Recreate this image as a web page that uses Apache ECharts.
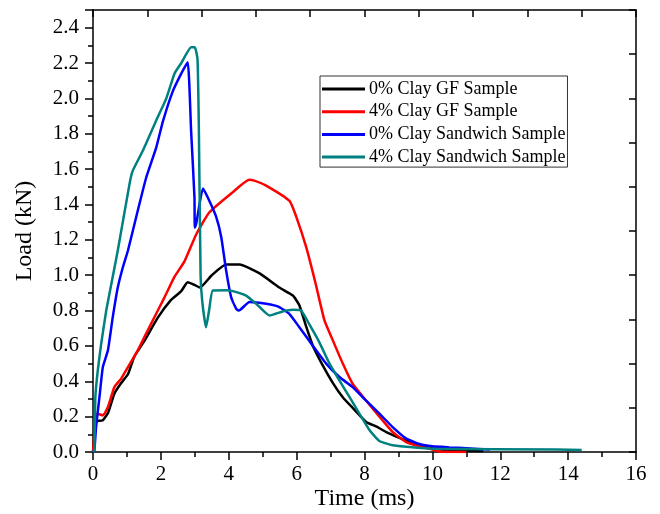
<!DOCTYPE html>
<html>
<head>
<meta charset="utf-8">
<script src="https://cdn.jsdelivr.net/npm/echarts@6/dist/echarts.min.js"></script>
<style>
  html, body { margin: 0; padding: 0; background: #fff; }
  #chart { width: 660px; height: 514px; }
</style>
</head>
<body>
<div id="chart"></div>
<script>
const chart = echarts.init(document.getElementById("chart"));

const seriesNames = [
    "0% Clay GF Sample",
    "4% Clay GF Sample",
    "0% Clay Sandwich Sample",
    "4% Clay Sandwich Sample"
];

// [time (ms), load (kN)]
const clay0GF = [
    [0, 0], [0.08, 0.17], [0.12, 0.175], [0.29, 0.18], [0.44, 0.22], [0.63, 0.33],
    [0.83, 0.39], [1.03, 0.44], [1.22, 0.54], [1.52, 0.63], [1.91, 0.76], [2.3, 0.86],
    [2.6, 0.91], [2.79, 0.96], [2.99, 0.945], [3.15, 0.93], [3.5, 1.0], [3.92, 1.06],
    [4.32, 1.06], [4.91, 1.01], [5.49, 0.93], [5.89, 0.885], [6.08, 0.83], [6.28, 0.71],
    [6.48, 0.6], [6.77, 0.49], [7.07, 0.39], [7.36, 0.31], [7.65, 0.25], [8.05, 0.17],
    [8.34, 0.145], [8.64, 0.113], [9.03, 0.08], [9.33, 0.056], [9.62, 0.038],
    [10.0, 0.02], [10.5, 0.01], [11.5, 0.005]
];

const clay4GF = [
    [0, 0], [0.08, 0.2], [0.12, 0.217], [0.29, 0.207], [0.44, 0.254], [0.63, 0.367],
    [0.83, 0.415], [1.03, 0.48], [1.32, 0.575], [1.71, 0.725], [2.11, 0.876], [2.4, 0.99],
    [2.7, 1.08], [3.04, 1.23], [3.43, 1.356], [4.12, 1.47], [4.6, 1.54], [4.75, 1.535],
    [5.1, 1.507], [5.79, 1.42], [5.99, 1.33], [6.28, 1.16], [6.55, 0.96], [6.82, 0.744],
    [7.07, 0.63], [7.36, 0.5], [7.65, 0.386], [8.05, 0.29], [8.44, 0.2], [8.83, 0.113],
    [9.23, 0.056], [9.62, 0.032], [9.91, 0.02], [10.2, 0.003], [11.0, 0]
];

const clay0Sandwich = [
    [0, 0], [0.04, 0.01], [0.09, 0.14], [0.19, 0.31], [0.29, 0.48], [0.44, 0.575],
    [0.58, 0.76], [0.73, 0.93], [0.88, 1.045], [1.03, 1.14], [1.32, 1.366], [1.57, 1.554],
    [1.86, 1.72], [2.06, 1.87], [2.35, 2.04], [2.6, 2.14], [2.79, 2.205], [2.89, 1.82],
    [2.99, 1.44], [3.0, 1.27], [3.05, 1.3], [3.24, 1.49], [3.43, 1.42], [3.63, 1.33],
    [3.78, 1.215], [3.92, 1.03], [4.07, 0.876], [4.22, 0.81], [4.3, 0.8], [4.61, 0.848],
    [5.1, 0.838], [5.49, 0.82], [5.79, 0.78], [6.08, 0.706], [6.48, 0.6], [6.87, 0.5],
    [7.26, 0.424], [7.65, 0.367], [8.05, 0.29], [8.44, 0.217], [8.83, 0.141], [9.23, 0.076],
    [9.62, 0.045], [10.0, 0.032], [10.5, 0.026], [11.0, 0.021], [11.7, 0.014]
];

const clay4Sandwich = [
    [0, 0], [0.04, 0.01], [0.07, 0.31], [0.14, 0.46], [0.24, 0.61], [0.39, 0.8],
    [0.54, 0.95], [0.73, 1.14], [1.08, 1.52], [1.17, 1.59], [1.47, 1.705], [1.86, 1.874],
    [2.16, 2.0], [2.4, 2.14], [2.6, 2.2], [2.89, 2.29], [3.0, 2.29], [3.08, 2.22],
    [3.12, 1.82], [3.17, 1.0], [3.22, 0.85], [3.33, 0.705], [3.42, 0.8], [3.53, 0.914],
    [3.92, 0.915], [4.12, 0.91], [4.51, 0.885], [4.81, 0.838], [5.2, 0.772], [5.59, 0.795],
    [5.89, 0.804], [6.13, 0.8], [6.38, 0.72], [6.67, 0.62], [6.97, 0.5], [7.26, 0.405],
    [7.56, 0.31], [7.85, 0.217], [8.15, 0.123], [8.44, 0.062], [8.83, 0.038], [9.33, 0.028],
    [10.0, 0.019], [13.65, 0.014], [14.4, 0.012]
];

const seriesData = [clay0GF, clay4GF, clay0Sandwich, clay4Sandwich];
const colors = ["#000000", "#ff0000", "#0000ff", "#008080"];

const font = "Liberation Serif";
const axisLine = { show: true, onZero: false, lineStyle: { color: "#000", width: 1.5 } };

const option = {
    animation: false,
    backgroundColor: "#fff",
    color: colors,
    grid: { left: 93, right: 24, top: 10, bottom: 62, outerBoundsMode: "none", containLabel: false },
    legend: {
        orient: "vertical",
        left: 320,
        top: 76,
        data: seriesNames,
        icon: "rect",
        itemWidth: 43,
        itemHeight: 3,
        itemGap: 4.7,
        padding: [4, 2, 1, 2],
        borderColor: "#333",
        borderWidth: 1,
        textStyle: { fontFamily: font, fontSize: 18, color: "#000", padding: [0, 0, 0, -1] }
    },
    xAxis: [
        {
            type: "value",
            min: 0,
            max: 16,
            interval: 2,
            name: "Time (ms)",
            nameLocation: "middle",
            nameGap: 35,
            nameMoveOverlap: false,
            nameTextStyle: { fontFamily: font, fontSize: 24, color: "#000" },
            axisLine: axisLine,
            axisTick: { length: 8, lineStyle: { color: "#000", width: 1.5 } },
            minorTick: { show: true, splitNumber: 2, length: 5, lineStyle: { color: "#000", width: 1.5 } },
            axisLabel: { margin: 12, fontFamily: font, fontSize: 21, color: "#000" },
            splitLine: { show: false }
        },
        {
            type: "value",
            position: "top",
            min: 0,
            max: 16,
            interval: 1.6,
            axisLine: axisLine,
            axisTick: { inside: true, length: 7, lineStyle: { color: "#000", width: 1.5 } },
            axisLabel: { show: false },
            splitLine: { show: false }
        }
    ],
    yAxis: [
        {
            type: "value",
            min: 0,
            max: 2.5,
            interval: 0.2,
            name: "Load (kN)",
            nameLocation: "middle",
            nameGap: 56,
            nameMoveOverlap: false,
            nameTextStyle: { fontFamily: font, fontSize: 24, color: "#000" },
            axisLine: axisLine,
            axisTick: { length: 8, lineStyle: { color: "#000", width: 1.5 } },
            minorTick: { show: true, splitNumber: 2, length: 5, lineStyle: { color: "#000", width: 1.5 } },
            axisLabel: {
                margin: 14,
                showMaxLabel: false,
                fontFamily: font,
                fontSize: 21,
                color: "#000",
                formatter: v => v.toFixed(1)
            },
            splitLine: { show: false }
        },
        {
            type: "value",
            position: "right",
            min: 0,
            max: 2.5,
            interval: 0.25,
            axisLine: axisLine,
            axisTick: { inside: true, length: 7, lineStyle: { color: "#000", width: 1.5 } },
            axisLabel: { show: false },
            splitLine: { show: false }
        }
    ],
    series: seriesNames.map((name, i) => ({
        name: name,
        type: "line",
        data: seriesData[i],
        xAxisIndex: 0,
        yAxisIndex: 0,
        symbol: "none",
        smooth: 0.15,
        lineStyle: { width: 2.5, color: colors[i] },
        z: 2 + i
    }))
};

chart.setOption(option);
</script>
</body>
</html>
